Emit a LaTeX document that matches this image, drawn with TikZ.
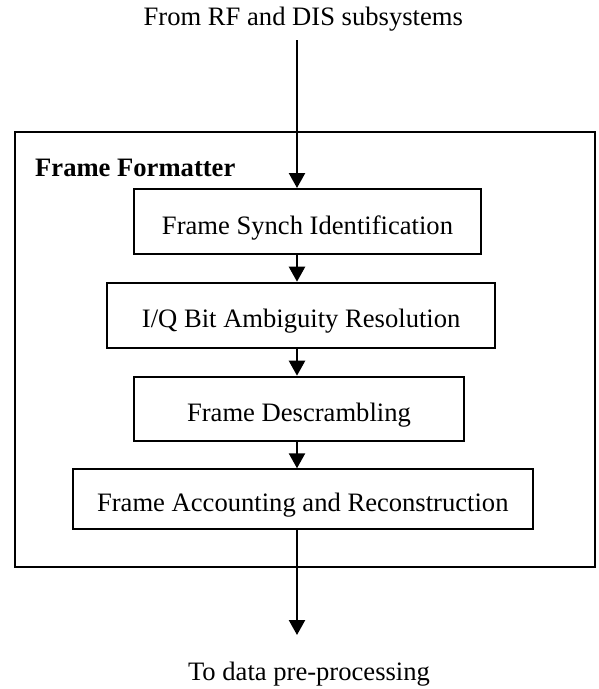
\documentclass[tikz,border=0pt]{standalone}
\usepackage{fontspec}
\setmainfont[Ligatures=NoCommon]{Liberation Serif}
\usetikzlibrary{arrows.meta}
\begin{document}
\begin{tikzpicture}[x=1pt,y=-1pt,
  box/.style={draw,line width=2pt,inner sep=0pt,text height=25pt,text depth=0pt,font=\fontsize{26.6}{30}\selectfont},
  frame/.style={draw,line width=2pt,inner sep=0pt},
  arr/.style={line width=2.4pt,-{Triangle[width=16pt,length=15pt]}},
  lbl/.style={anchor=base,inner sep=0pt,font=\fontsize{26.6}{30}\selectfont}]
\useasboundingbox (0,0) rectangle (598,689);
\node[frame,minimum width=580.4pt,minimum height=435.3pt] (outer) at (304.8,349.65) {};
\node[lbl,anchor=base west,font=\fontsize{26.6}{30}\selectfont\bfseries] (ff) at (35,176.7) {Frame Formatter};
\node[lbl] (from) at (303.3,25) {From RF and DIS subsystems};
\node[lbl] (to) at (309,680) {To data pre-processing};
\node[box,minimum width=347pt,minimum height=65pt] (b1) at (307.5,221.5) {Frame Synch Identification};
\node[box,minimum width=388.4pt,minimum height=65pt] (b2) at (301.2,315.2) {I/Q Bit Ambiguity Resolution};
\node[box,minimum width=329.3pt,minimum height=64pt] (b3) at (299,408.7) {Frame Descrambling};
\node[box,minimum width=459.5pt,minimum height=60pt] (b4) at (302.8,499.3) {Frame Accounting and Reconstruction};
\coordinate (top) at (297,40);
\coordinate (bot) at (297,635);
\draw[arr] (top) -- (b1.north -| top);
\draw[arr] (b1.south -| top) -- (b2.north -| top);
\draw[arr] (b2.south -| top) -- (b3.north -| top);
\draw[arr] (b3.south -| top) -- (b4.north -| top);
\draw[arr] (b4.south -| top) -- (bot);
\end{tikzpicture}
\end{document}
